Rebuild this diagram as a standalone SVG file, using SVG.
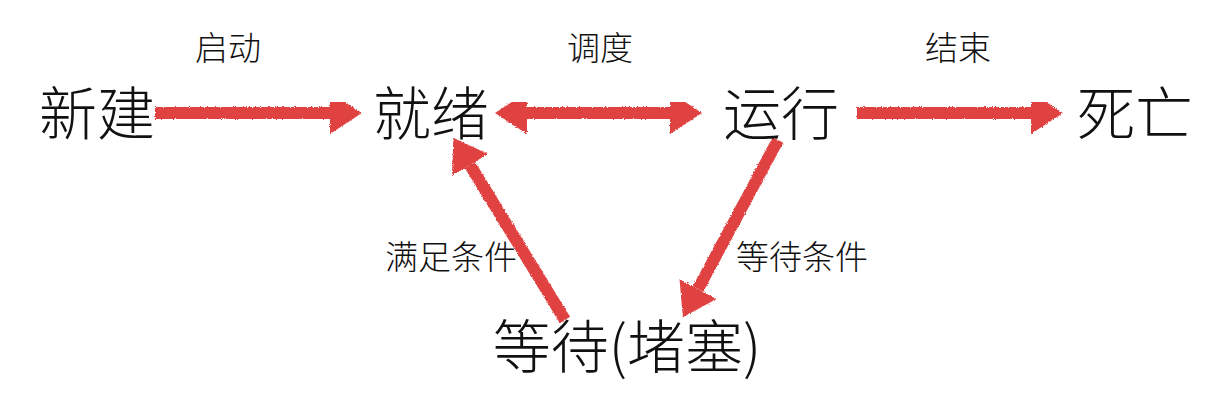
<svg xmlns="http://www.w3.org/2000/svg" width="1225" height="405" viewBox="0 0 1225 405">
  <style>
    .node { font-family: "Noto Sans CJK SC", "Noto Sans", sans-serif; font-size: 58px; font-weight: 300; fill: #111; text-anchor: middle; dominant-baseline: central; }
    .lbl { font-family: "Noto Sans CJK SC", "Noto Sans", sans-serif; font-size: 33px; font-weight: 300; fill: #111; text-anchor: middle; dominant-baseline: central; }
    .edge { fill: none; stroke: #e04343; stroke-width: 12; marker-end: url(#head); }
  </style>
  <defs>
    <marker id="head" markerUnits="userSpaceOnUse" markerWidth="36" markerHeight="46" viewBox="0 -23 36 46" refX="0" refY="0" orient="auto-start-reverse">
      <path d="M0,-21 L32,0 L0,21 Z" fill="#e04343"/>
    </marker>
    <filter id="rough" x="-5%" y="-5%" width="110%" height="110%">
      <feTurbulence type="fractalNoise" baseFrequency="0.9" numOctaves="2" seed="3" result="n"/>
      <feDisplacementMap in="SourceGraphic" in2="n" scale="3" xChannelSelector="R" yChannelSelector="G"/>
    </filter>
  </defs>
  <rect width="1225" height="405" fill="#fff"/>
  <g id="connectors" filter="url(#rough)">
    <path class="edge" d="M155,113 L330,113"/>
    <path class="edge" d="M527,113 L670,113" marker-start="url(#head)"/>
    <path class="edge" d="M857,113 L1031,113"/>
    <path class="edge" d="M565,320 L470,165"/>
    <path class="edge" d="M778,140 L698,289"/>
  </g>
  <g id="edge-labels">
    <text class="lbl" x="228" y="46">启动</text>
    <text class="lbl" x="600" y="46">调度</text>
    <text class="lbl" x="958" y="46">结束</text>
    <text class="lbl" x="451" y="255">满足条件</text>
    <text class="lbl" x="802" y="255">等待条件</text>
  </g>
  <g id="node-new"><text class="node" x="97" y="110">新建</text></g>
  <g id="node-ready"><text class="node" x="431" y="110">就绪</text></g>
  <g id="node-running"><text class="node" x="781" y="110">运行</text></g>
  <g id="node-dead"><text class="node" x="1135" y="110">死亡</text></g>
  <g id="node-blocked"><text class="node" x="627" y="343">等待(堵塞)</text></g>
</svg>
